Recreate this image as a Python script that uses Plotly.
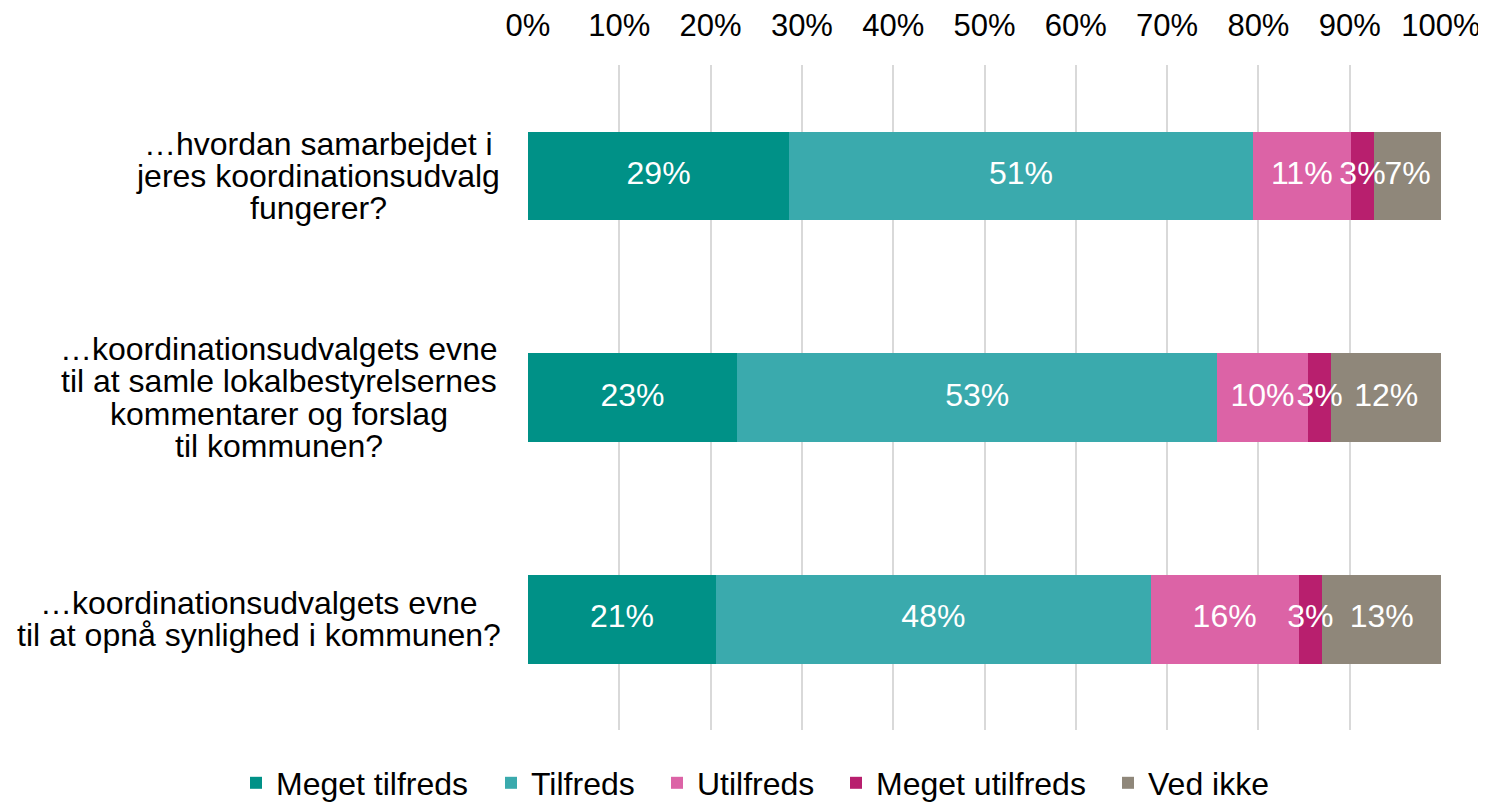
import plotly.graph_objects as go

# spørgsmål (ovenfra og ned), en liste af linjer pr. spørgsmål
questions = [
    ["…hvordan samarbejdet i", "jeres koordinationsudvalg", "fungerer?"],
    ["…koordinationsudvalgets evne", "til at samle lokalbestyrelsernes",
     "kommentarer og forslag", "til kommunen?"],
    ["…koordinationsudvalgets evne", "til at opnå synlighed i kommunen?"],
]
q_keys = ["q1", "q2", "q3"]

series_names = ["Meget tilfreds", "Tilfreds", "Utilfreds", "Meget utilfreds", "Ved ikke"]
colors = ["#009187", "#3AAAAD", "#DC63A6", "#B81F6E", "#8F877A"]

meget_tilfreds = [28.6, 22.9, 20.6]
tilfreds = [50.8, 52.6, 47.6]
utilfreds = [10.7, 9.9, 16.2]
meget_utilfreds = [2.6, 2.6, 2.6]
ved_ikke = [7.3, 12.0, 13.0]

values = [meget_tilfreds, tilfreds, utilfreds, meget_utilfreds, ved_ikke]

FONT = "Arial, Liberation Sans, sans-serif"
FS = 32

# venstre kant af legendesymbolerne (px i figuren)
legend_left = [245, 500, 666, 845, 1117]
label_center = [310, 271, 251]   # vandret midte af spørgsmålsteksterne
PLOT_LEFT = 520
W, H = 1478, 799

fig = go.Figure()
for i, (name, vals, col) in enumerate(zip(series_names, values, colors)):
    lg = "legend" if i == 0 else f"legend{i + 1}"
    fig.add_trace(go.Bar(
        y=q_keys, x=vals, name=name, orientation="h", legend=lg,
        marker=dict(color=col, line=dict(width=0)),
        showlegend=True,
    ))
    fig.update_layout({lg: dict(
        orientation="h", xref="container", yref="container",
        x=(legend_left[i] - 17) / W, y=1 - 775 / H,
        xanchor="left", yanchor="middle",
        font=dict(size=FS, family=FONT, color="black"),
        bgcolor="rgba(0,0,0,0)", borderwidth=0,
    )})

# dataetiketter oven på alle søjler
start = [0.0] * len(q_keys)
for vals in values:
    mids = [s + v / 2 for s, v in zip(start, vals)]
    fig.add_trace(go.Scatter(
        x=mids, y=q_keys, mode="text",
        text=[f"{round(v):.0f}%" for v in vals],
        textposition="middle center",
        textfont=dict(color="white", size=FS, family=FONT),
        showlegend=False, hoverinfo="skip", cliponaxis=False,
    ))
    start = [s + v for s, v in zip(start, vals)]

# kategoritekster, hver linje for sig (tæt linjeafstand som i originalen)
for key, lines, cx in zip(q_keys, questions, label_center):
    n = len(lines)
    for j, line in enumerate(lines):
        fig.add_annotation(
            x=0, xref="paper", y=key, yref="y", xanchor="center", yanchor="middle",
            xshift=cx - PLOT_LEFT, yshift=((n - 1) / 2 - j) * 32.3,
            text=line, showarrow=False,
            font=dict(size=FS, color="black", family=FONT),
        )

fig.update_layout(
    barmode="stack", bargap=0.6, showlegend=True,
    width=W, height=H,
    margin=dict(l=PLOT_LEFT, r=45, t=57, b=77),
    plot_bgcolor="white", paper_bgcolor="white",
    font=dict(family=FONT, color="black"),
)
fig.update_xaxes(
    side="top", range=[0, 100], dtick=10, ticksuffix="%",
    showgrid=True, gridcolor="#D9D9D9", gridwidth=2,
    zeroline=False, showline=False, ticks="", automargin=False,
    tickfont=dict(size=31, family=FONT), ticklabelstandoff=22,
)
fig.update_yaxes(
    autorange="reversed", showticklabels=False, showgrid=False,
    zeroline=False, showline=False, ticks="", automargin=False,
)

fig.write_html("out.html")
